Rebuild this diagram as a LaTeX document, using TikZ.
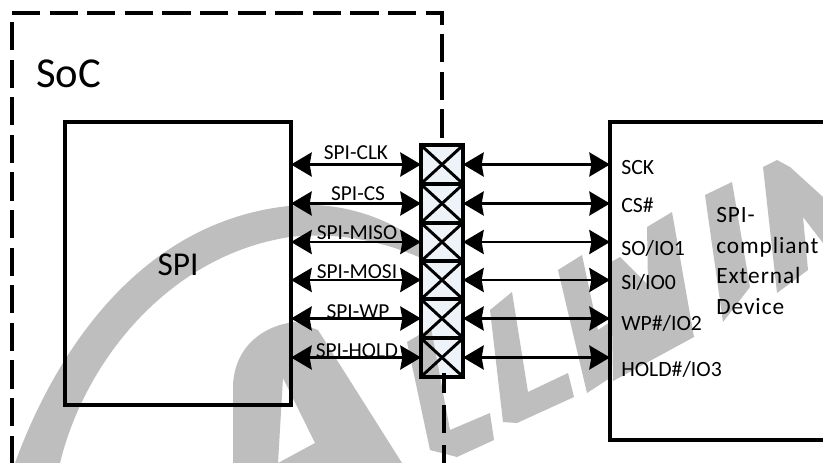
\documentclass[tikz,border=0pt]{standalone}
\usepackage{fontspec}
\setmainfont{Carlito}
\usetikzlibrary{arrows.meta}
\definecolor{wm}{HTML}{BEBEBE}
\definecolor{celltint}{HTML}{EDF3F9}
\tikzset{
  x=0.75pt,y=-0.75pt,
  boxstyle/.style={draw=black,line width=2.3pt,fill=none,inner sep=0pt,outer sep=0pt,anchor=north west},
  cellstyle/.style={draw=black,line width=2.7pt,inner sep=0pt,outer sep=0pt,minimum width=31.5pt,minimum height=28.9pt},
  dashline/.style={draw=black,line width=2.6pt,dash pattern=on 21.2pt off 7pt},
  link/.style={draw=black,line width=2.2pt,{Stealth[length=15.5pt,width=18pt,inset=1.5pt]}-{Stealth[length=15.5pt,width=18pt,inset=1.5pt]},shorten >=0pt,shorten <=0pt},
  siglabel/.style={font=\fontsize{16}{18}\selectfont,inner sep=0pt,anchor=base,text=black},
  portlabel/.style={font=\fontsize{16.3}{18}\selectfont,inner sep=0pt,anchor=base west,text=black},
  titlelabel/.style={font=\fontsize{25}{28}\selectfont,inner sep=0pt,anchor=base,text=black},
  wmark/.style={fill=wm,draw=none},
}
\begin{document}
\begin{tikzpicture}
\path[use as bounding box] (0,0) rectangle (823,463);
\clip (0,0) rectangle (823,463);
\fill[white] (0,0) rectangle (823,463);
% cell tint
\fill[celltint] (421,146) rectangle (463,377);
% watermark
\fill[wmark] (15,463) .. controls (60,340) and (150,215) .. (300,205) .. controls (350,203) and (395,222) .. (421,244)
  -- (421,258) .. controls (380,240) and (335,232) .. (290,237) .. controls (170,255) and (85,360) .. (60,463) -- cycle;
\fill[wmark,even odd rule] (233,463) -- (233,385) .. controls (235,345) and (265,325) .. (295,322) -- (318,330) -- (402,463) -- cycle
  (283,378) -- (315,443) -- (278,463) -- cycle;
\fill[wmark] (407,342) -- (431,328) -- (450,430) -- (490,413) -- (494,440) -- (457,457) -- (430,450) -- cycle;
\fill[wmark] (490,310) -- (512,292) -- (528,392) -- (568,373) -- (574,397) -- (517,423) -- (503,422) -- cycle;
\fill[wmark] (558,270) -- (582,255) -- (598,330) -- (610,322) -- (610,378) -- (587,393) -- cycle;
\fill[wmark] (611,262) -- (620,257) -- (648,285) -- (647,227) -- (672,212) -- (694,337) -- (613,381) -- cycle;
\fill[wmark] (705,195) -- (732,182) -- (750,287) -- (723,322) -- cycle;
\fill[wmark] (763,167) -- (777,160) -- (790,167) -- (823,197) -- (823,243) -- (803,217) -- (808,270) -- (777,293) -- cycle;
% SoC dashed outline
\coordinate (soctl) at (12,13);
\coordinate (soctr) at (442,13);
\coordinate (socr) at (442,146);
\coordinate (socl0) at (12,22);
\coordinate (socl1) at (12,463);
\coordinate (socb0) at (444,373);
\coordinate (socb1) at (444,463);
\draw[dashline] (soctl) -- (soctr) -- (socr);
\draw[dashline] (socl0) -- (socl1);
\draw[dashline,dash pattern=on 15pt off 9pt on 21pt off 9pt on 30pt off 7pt] (socb0) -- (socb1);
% boxes
\node[boxstyle,minimum width=169.5pt,minimum height=212.25pt] (spi) at (65,122) {};
\node[boxstyle,minimum width=165pt,minimum height=238.5pt] (ext) at (610,122) {};
\foreach \n/\y in {1/164.5,2/203.5,3/242,4/280,5/318.5,6/357.5}{
  \node[cellstyle] (cell\n) at (442,\y) {};
  \draw[black,line width=2.2pt] (cell\n.north west) -- (cell\n.south east) (cell\n.north east) -- (cell\n.south west);
  \draw[link] (cell\n.west -| spi.east) -- (cell\n.west);
  \draw[link] (cell\n.east) -- (cell\n.east -| ext.west);
}
% labels
\node[titlelabel,font=\fontsize{32}{36}\selectfont,anchor=base west] (soc) at (36,88) {SoC};
\node[titlelabel] (spilabel) at (178,275) {SPI};
\node[siglabel] (l1) at (356,160) {SPI-CLK};
\node[siglabel] (l2) at (358,200) {SPI-CS};
\node[siglabel] (l3) at (357,239) {SPI-MISO};
\node[siglabel] (l4) at (357,278) {SPI-MOSI};
\node[siglabel] (l5) at (358,318) {SPI-WP};
\node[siglabel] (l6) at (357,357) {SPI-HOLD};
\node[portlabel] (p1) at (621,175) {SCK};
\node[portlabel] (p2) at (621,213) {CS\#};
\node[portlabel] (p3) at (621,255) {SO/IO1};
\node[portlabel] (p4) at (621,289) {SI/IO0};
\node[portlabel] (p5) at (621,330) {WP\#/IO2};
\node[portlabel] (p6) at (621,376) {HOLD\#/IO3};
\node[align=left,inner sep=0pt,anchor=west,text=black,font=\fontsize{17.5}{23}\selectfont\addfontfeature{LetterSpace=4}] (devlabel) at (716,261) {SPI-\\compliant\\External\\Device};
\end{tikzpicture}
\end{document}
